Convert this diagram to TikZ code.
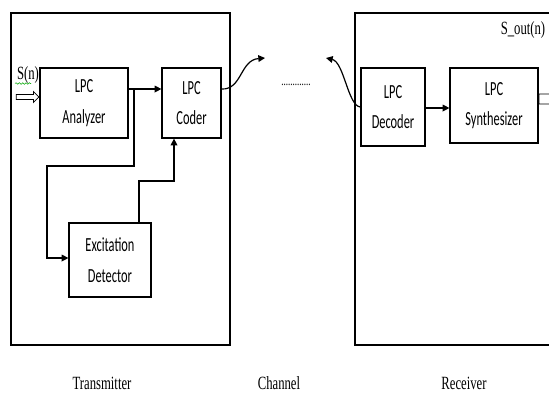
\documentclass[tikz,border=0pt]{standalone}
\usepackage{fontspec}
\setmainfont{Liberation Serif}[FakeStretch=0.68]
\newfontfamily\cali{Carlito}[FakeStretch=0.62]
\usetikzlibrary{arrows.meta,shapes.arrows,decorations.pathmorphing}

\begin{document}
\begin{tikzpicture}[x=0.75pt, y=-0.75pt, line width=0.9pt,
    blk/.style={draw, rectangle, inner sep=0pt, align=center, font=\cali\fontsize{15}{23}\selectfont},
    frm/.style={draw, rectangle, inner sep=0pt},
    lbl/.style={font=\fontsize{14}{16}\selectfont},
    tip/.style={-{Triangle[length=5pt,width=5pt]}},
    hollow/.style={draw, single arrow, line width=0.6pt, inner sep=0pt, single arrow head extend=2pt}]
    \useasboundingbox (0,0) rectangle (549,394);
                % frames
                \node[frm, minimum width=164.25pt, minimum height=249pt] (tx) at (120.5,179) {};
                \node[frm, minimum width=153.75pt, minimum height=249pt] (rx) at (457.5,179) {};
                % blocks
                \node[blk, minimum width=66pt, minimum height=52.5pt] (ana) at (84,103) {LPC\\Analyzer};
                \node[blk, minimum width=44.25pt, minimum height=52.5pt] (cod) at (191.5,103) {LPC\\Coder};
                \node[blk, minimum width=61.5pt, minimum height=55.5pt] (exc) at (110,260) {Excitation\\Detector};
                \node[blk, minimum width=48pt, minimum height=58.5pt] (dec) at (393,107) {LPC\\Decoder};
                \node[blk, minimum width=66pt, minimum height=56.25pt] (syn) at (494,105.5) {LPC\\Synthesizer};
                % signals
                \node[font=\fontsize{14}{16}\selectfont] (sin) at (28,75) {S(n)};
                \draw[green!65!black, line width=0.4pt, decorate, decoration={snake, amplitude=0.6pt, segment length=2.5pt}] (sin.south west) ++(3,-5) -- ++(16,0);
                \node[hollow, minimum height=17pt, minimum width=8pt, text height=3pt, anchor=tip] (inarr) at (ana.west |- 0,97) {};
                \node[font=\fontsize{14}{16}\selectfont] (sout) at (523,30) {S\_out(n)};
                \node[hollow, minimum height=30pt, minimum width=12pt, text height=6pt, anchor=tail] (outarr) at (syn.east |- 0,99) {};
                % connections
                \coordinate (br) at (134,89);
                \coordinate (eo) at (139,223);
                \coordinate (ci) at (174,181);
                \draw[tip] (ana.east |- br) -- (cod.west |- br);
                \draw[tip] (br) -- (134,166) -| (47,258) -- (exc.west |- 0,258);
                \draw[tip] (eo) |- (ci) -- (ci |- cod.south);
                \draw[tip] (dec.east |- 0,108) -- (syn.west |- 0,108);
                % channel
                \coordinate (cha) at (265,58);
                \coordinate (chb) at (326,58);
                \draw[tip] (cod.east |- br) .. controls (242,90) and (240,60) .. (cha);
                \draw[tip] (dec.west) .. controls (348,106) and (344,62) .. (chb);
                \node[font=\fontsize{10}{12}\selectfont] (dots) at (296,85) {.............};
                % captions
                \node[lbl] (ltx) at (102,383) {Transmitter};
                \node[lbl] (lch) at (279,383) {Channel};
                \node[lbl] (lrx) at (464,383) {Receiver};
            \end{tikzpicture}
\end{document}
